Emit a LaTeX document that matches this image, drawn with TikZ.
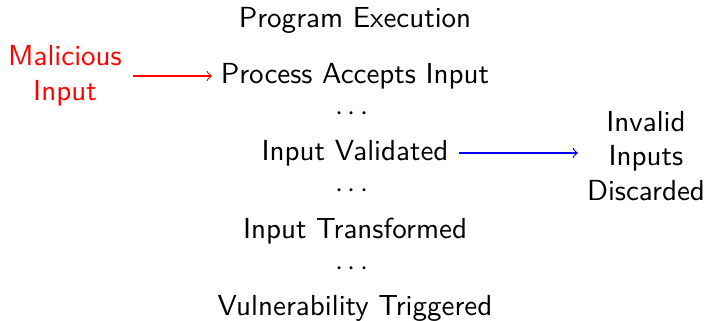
\documentclass[tikz,border=0pt]{standalone}
\renewcommand{\familydefault}{\sfdefault}
\begin{document}
\begin{tikzpicture}[x=0.3446pt,y=-0.3446pt,
  lbl/.style={inner sep=0pt,align=center,font=\sffamily},
  arr/.style={->,>=to,line width=0.4pt}]
\useasboundingbox (0,0) rectangle (708,321);
\node[lbl] (title) at (355,20) {Program Execution};
\node[lbl,text=red] (mal) at (65,76) {Malicious\\Input};
\node[lbl] (proc) at (355,76) {Process Accepts Input};
\node[lbl] (d1) at (352,114) {$\cdots$};
\node[lbl] (val) at (355,153) {Input Validated};
\node[lbl] (inv) at (646,156) {Invalid\\Inputs\\Discarded};
\node[lbl] (d2) at (352,191) {$\cdots$};
\node[lbl] (tra) at (355,231) {Input Transformed};
\node[lbl] (d3) at (352,269) {$\cdots$};
\node[lbl] (vul) at (355,308) {Vulnerability Triggered};
\coordinate (a1) at (133,76);
\coordinate (a2) at (212,76);
\draw[arr,red] (a1) -- (a2);
\coordinate (b1) at (459,153);
\coordinate (b2) at (578,153);
\draw[arr,blue] (b1) -- (b2);
\end{tikzpicture}
\end{document}
